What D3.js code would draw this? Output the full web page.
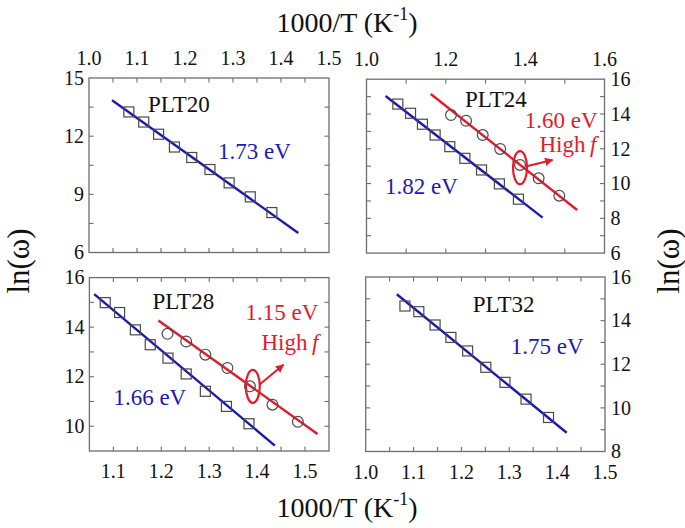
<!DOCTYPE html>
<html lang="en">
<head>
  <meta charset="UTF-8">
  <title>Arrhenius plots</title>
  <script src="https://d3js.org/d3.v7.min.js"></script>
  <style>
    body { margin: 0; background: #fff; }
    svg { display: block; font-family: "Liberation Serif", "Times New Roman", serif; }
  </style>
</head>
<body>
  <svg id="chart" width="685" height="528"></svg>
  <script>
// values: x = 1000/T (K^-1), y = ln(omega)
const plt20SqX = [1.083, 1.114, 1.145, 1.178, 1.214, 1.252, 1.292, 1.336, 1.381];
const plt20SqY = [13.25, 12.73, 12.10, 11.44, 10.90, 10.28, 9.59, 8.87, 8.06];
const plt20Fit = [[1.048, 13.85], [1.436, 7.01]];

const plt24SqX = [1.079, 1.111, 1.141, 1.173, 1.210, 1.248, 1.290, 1.335, 1.383];
const plt24SqY = [14.57, 14.04, 13.41, 12.79, 12.12, 11.45, 10.78, 9.98, 9.10];
const plt24CiX = [1.213, 1.251, 1.293, 1.337, 1.387, 1.434, 1.486];
const plt24CiY = [13.94, 13.61, 12.79, 11.99, 11.07, 10.30, 9.30];
const plt24FitLow = [[1.048, 15.03], [1.444, 8.04]];
const plt24FitHigh = [[1.162, 15.15], [1.531, 8.48]];

const plt28SqX = [1.083, 1.113, 1.146, 1.177, 1.214, 1.252, 1.292, 1.336, 1.383];
const plt28SqY = [14.99, 14.59, 13.89, 13.29, 12.75, 12.11, 11.41, 10.80, 10.10];
const plt28CiX = [1.213, 1.252, 1.292, 1.338, 1.385, 1.432, 1.485];
const plt28CiY = [13.73, 13.42, 12.89, 12.35, 11.61, 10.87, 10.18];
const plt28FitLow = [[1.060, 15.33], [1.437, 9.22]];
const plt28FitHigh = [[1.194, 14.27], [1.526, 9.69]];

const plt32SqX = [1.082, 1.111, 1.145, 1.178, 1.213, 1.251, 1.291, 1.335, 1.382];
const plt32SqY = [14.67, 14.41, 13.80, 13.23, 12.61, 11.86, 11.17, 10.40, 9.56];
const plt32Fit = [[1.065, 15.21], [1.420, 8.86]];

// tick labels
const xTicks20 = [1.0, 1.1, 1.2, 1.3, 1.4, 1.5];
const yTicks20 = [6, 9, 12, 15];
const xTicks24 = [1.0, 1.2, 1.4, 1.6];
const yTicks24 = [6, 8, 10, 12, 14, 16];
const xTicks28 = [1.1, 1.2, 1.3, 1.4, 1.5];
const yTicks28 = [10, 12, 14, 16];
const xTicks32 = [1.0, 1.1, 1.2, 1.3, 1.4, 1.5];
const yTicks32 = [8, 10, 12, 14, 16];

// marked high-frequency point and arrow tip
const plt24Mark = [1.387, 10.91], plt24Arrow = [1.469, 11.35];
const plt28Mark = [1.391, 11.61], plt28Arrow = [1.455, 12.48];

const BLUE = "#1a1ab4", RED = "#e8192a", SYM = "#4a4a4a", FRAME = "#6e6e6e";

const svg = d3.select("#chart");

svg.append("defs").append("marker")
  .attr("id", "head")
  .attr("viewBox", "0 0 10 10")
  .attr("refX", 9).attr("refY", 5)
  .attr("markerWidth", 4.2).attr("markerHeight", 4.2)
  .attr("orient", "auto")
  .append("path").attr("d", "M0,0 L10,5 L0,10 z").attr("fill", RED);

const pairs = (xs, ys) => xs.map((x, i) => [x, ys[i]]);

const panels = [
  { box: [89, 78, 329, 252.5], xDom: [1.0, 1.5], yDom: [6, 15], xStep: 0.05, yStep: 1.5,
    xLab: xTicks20, yLab: yTicks20, xSide: "top", ySide: "left",
    squares: pairs(plt20SqX, plt20SqY), circles: [], fits: [[plt20Fit, BLUE]],
    texts: [["PLT20", 59, 34, "#111", "start"], ["1.73 eV", 129, 81, BLUE, "start"]] },
  { box: [366.5, 79.2, 604.5, 253.1], xDom: [1.0, 1.6], yDom: [6, 16], xStep: 0.1, yStep: 1,
    xLab: xTicks24, yLab: yTicks24, xSide: "top", ySide: "right",
    squares: pairs(plt24SqX, plt24SqY), circles: pairs(plt24CiX, plt24CiY),
    fits: [[plt24FitLow, BLUE], [plt24FitHigh, RED]], mark: plt24Mark, arrow: plt24Arrow,
    texts: [["PLT24", 98.5, 27.7, "#111", "start"], ["1.60 eV", 231, 49, RED, "end"],
            ["High", 230, 72.7, RED, "end", true], ["1.82 eV", 18.5, 115, BLUE, "start"]] },
  { box: [89.4, 277.6, 329, 451], xDom: [1.05, 1.55], yDom: [9, 16], xStep: 0.05, yStep: 1,
    xLab: xTicks28, yLab: yTicks28, xSide: "bottom", ySide: "left",
    squares: pairs(plt28SqX, plt28SqY), circles: pairs(plt28CiX, plt28CiY),
    fits: [[plt28FitLow, BLUE], [plt28FitHigh, RED]], mark: plt28Mark, arrow: plt28Arrow,
    texts: [["PLT28", 63, 31, "#111", "start"], ["1.15 eV", 229, 42.5, RED, "end"],
            ["High", 229, 72.5, RED, "end", true], ["1.66 eV", 24, 127.5, BLUE, "start"]] },
  { box: [365.7, 277, 605, 451.5], xDom: [1.0, 1.5], yDom: [8, 16], xStep: 0.05, yStep: 1,
    xLab: xTicks32, yLab: yTicks32, xSide: "bottom", ySide: "right",
    squares: pairs(plt32SqX, plt32SqY), circles: [], fits: [[plt32Fit, BLUE]],
    texts: [["PLT32", 107, 34.7, "#111", "start"], ["1.75 eV", 145, 77.3, BLUE, "start"]] }
];

panels.forEach(p => {
  const [l, t, r, b] = p.box;
  const x = d3.scaleLinear().domain(p.xDom).range([l, r]);
  const y = d3.scaleLinear().domain(p.yDom).range([b, t]);
  const g = svg.append("g");
  const tl = 4.5;

  // minor/major ticks, inward on all four sides
  const xt = d3.range(p.xDom[0], p.xDom[1] + 1e-9, p.xStep).filter(v => v > p.xDom[0] + 1e-9 && v < p.xDom[1] - 1e-9);
  const yt = d3.range(p.yDom[0], p.yDom[1] + 1e-9, p.yStep).filter(v => v > p.yDom[0] + 1e-9 && v < p.yDom[1] - 1e-9);
  const tk = g.append("g").attr("stroke", FRAME).attr("stroke-width", 1.1);
  xt.forEach(v => {
    tk.append("line").attr("x1", x(v)).attr("x2", x(v)).attr("y1", b).attr("y2", b - tl);
    tk.append("line").attr("x1", x(v)).attr("x2", x(v)).attr("y1", t).attr("y2", t + tl);
  });
  yt.forEach(v => {
    tk.append("line").attr("y1", y(v)).attr("y2", y(v)).attr("x1", l).attr("x2", l + tl);
    tk.append("line").attr("y1", y(v)).attr("y2", y(v)).attr("x1", r).attr("x2", r - tl);
  });

  g.append("rect").attr("x", l).attr("y", t).attr("width", r - l).attr("height", b - t)
    .attr("fill", "none").attr("stroke", FRAME).attr("stroke-width", 1.3);

  // tick labels
  g.append("g").selectAll("text").data(p.xLab).join("text")
    .attr("x", d => x(d))
    .attr("y", p.xSide === "top" ? t - 13 : b + 27)
    .attr("text-anchor", "middle").attr("font-size", 20).attr("fill", "#111")
    .text(d => d.toFixed(1));
  g.append("g").selectAll("text").data(p.yLab).join("text")
    .attr("x", p.ySide === "left" ? l - 5 : r + 6)
    .attr("y", d => y(d)).attr("dy", "0.34em")
    .attr("text-anchor", p.ySide === "left" ? "end" : "start")
    .attr("font-size", 20).attr("fill", "#111")
    .text(d => d);

  // fitted lines
  const line = d3.line().x(d => x(d[0])).y(d => y(d[1]));
  p.fits.forEach(([pts, col]) => {
    g.append("path").attr("d", line(pts)).attr("stroke", col).attr("stroke-width", 2.4).attr("fill", "none");
  });

  // symbols
  const s = 10;
  g.append("g").selectAll("rect").data(p.squares).join("rect")
    .attr("x", d => x(d[0]) - s / 2).attr("y", d => y(d[1]) - s / 2)
    .attr("width", s).attr("height", s)
    .attr("fill", "none").attr("stroke", SYM).attr("stroke-width", 1.2);
  g.append("g").selectAll("circle").data(p.circles).join("circle")
    .attr("cx", d => x(d[0])).attr("cy", d => y(d[1])).attr("r", 5.4)
    .attr("fill", "none").attr("stroke", SYM).attr("stroke-width", 1.2);

  // ellipse + arrow marking high-frequency point
  if (p.mark) {
    const cx = x(p.mark[0]), cy = y(p.mark[1]);
    g.append("ellipse").attr("cx", cx).attr("cy", cy).attr("rx", 7).attr("ry", 16.5)
      .attr("fill", "none").attr("stroke", RED).attr("stroke-width", 2.2);
    g.append("line").attr("x1", cx + 6.5).attr("y1", cy - 1.5)
      .attr("x2", x(p.arrow[0])).attr("y2", y(p.arrow[1]))
      .attr("stroke", RED).attr("stroke-width", 2).attr("marker-end", "url(#head)");
  }

  // labels
  p.texts.forEach(([txt, dx, dy, col, anchor, italicF]) => {
    const te = g.append("text").attr("x", l + dx).attr("y", t + dy)
      .attr("text-anchor", anchor).attr("font-size", 23).attr("fill", col);
    te.append("tspan").text(txt);
    if (italicF) te.append("tspan").attr("font-style", "italic").text("\u2009f");
  });
});

// axis titles
function kTitle(yPos) {
  const te = svg.append("text").attr("x", 347).attr("y", yPos)
    .attr("text-anchor", "middle").attr("font-size", 28).attr("fill", "#111");
  te.append("tspan").text("1000/T (K");
  te.append("tspan").attr("font-size", 18).attr("dy", -12).text("-1");
  te.append("tspan").attr("dy", 12).text(")");
}
kTitle(32);
kTitle(516.5);

[[18, 261], [668, 261]].forEach(([cx, cy]) => {
  svg.append("text").attr("transform", `translate(${cx},${cy}) rotate(-90)`)
    .attr("text-anchor", "middle").attr("dy", "0.35em")
    .attr("font-size", 31).attr("fill", "#111").text("ln(\u03c9)");
});
  </script>
</body>
</html>
